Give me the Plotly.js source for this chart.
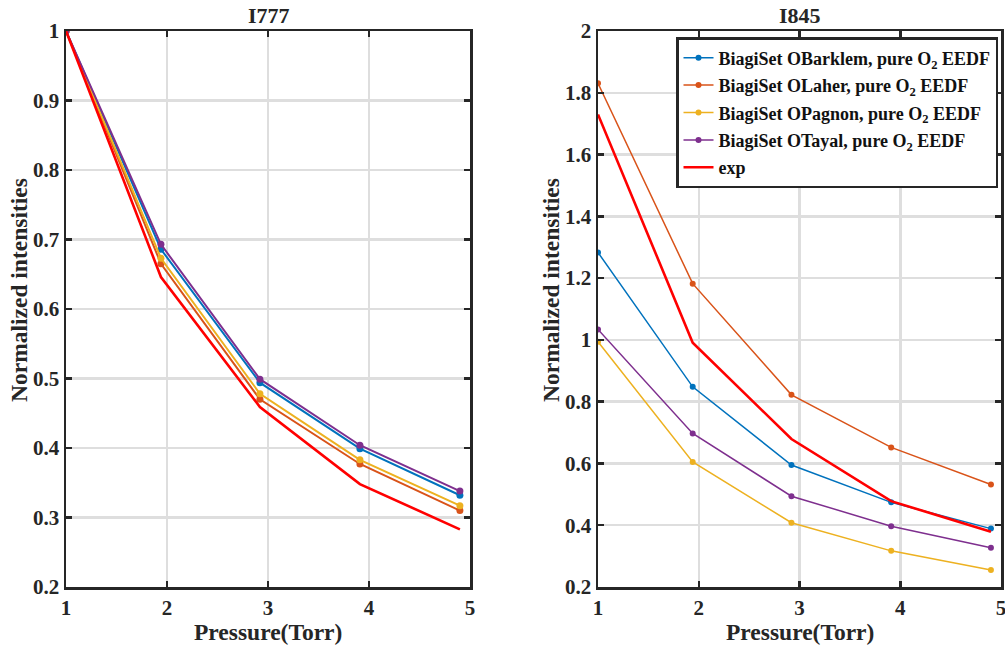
<!DOCTYPE html>
<html>
<head>
<meta charset="utf-8">
<script src="https://cdn.plot.ly/plotly-3.0.1.min.js"></script>
<style>html,body{margin:0;padding:0;background:#fff;}#chart{width:1005px;height:646px;}</style>
</head>
<body>
<div id="chart"></div>
<script>
const pressure = [1, 1.94, 2.92, 3.91, 4.9];

const seriesNames = [
  'BiagiSet OBarklem, pure O<sub>2</sub> EEDF',
  'BiagiSet OLaher, pure O<sub>2</sub> EEDF',
  'BiagiSet OPagnon, pure O<sub>2</sub> EEDF',
  'BiagiSet OTayal, pure O<sub>2</sub> EEDF',
  'exp'
];
const seriesColors = ['#0072BD', '#D95319', '#EDB120', '#7E2F8E', '#FF0000'];

// I777 panel
const barklem777 = [1, 0.686, 0.494, 0.399, 0.332];
const laher777   = [1, 0.665, 0.470, 0.377, 0.310];
const pagnon777  = [1, 0.673, 0.478, 0.383, 0.317];
const tayal777   = [1, 0.693, 0.499, 0.404, 0.338];
const exp777     = [1, 0.646, 0.459, 0.348, 0.283];

// I845 panel
const barklem845 = [1.283, 0.848, 0.595, 0.474, 0.389];
const laher845   = [1.831, 1.182, 0.822, 0.652, 0.532];
const pagnon845  = [0.994, 0.605, 0.408, 0.317, 0.255];
const tayal845   = [1.034, 0.697, 0.494, 0.397, 0.327];
const exp845     = [1.730, 0.991, 0.679, 0.478, 0.379];

const panel777 = [barklem777, laher777, pagnon777, tayal777, exp777];
const panel845 = [barklem845, laher845, pagnon845, tayal845, exp845];

const traces = [];
panel777.forEach((ys, i) => {
  const isExp = i === 4;
  traces.push({
    x: pressure, y: ys, xaxis: 'x', yaxis: 'y', showlegend: false,
    name: seriesNames[i], type: 'scatter',
    mode: isExp ? 'lines' : 'lines+markers',
    line: {color: seriesColors[i], width: isExp ? 2.6 : 2},
    marker: {color: seriesColors[i], size: 7}
  });
});
panel845.forEach((ys, i) => {
  const isExp = i === 4;
  traces.push({
    x: pressure, y: ys, xaxis: 'x2', yaxis: 'y2', showlegend: true,
    legendgroup: 'g' + i,
    name: seriesNames[i], type: 'scatter',
    mode: isExp ? 'lines' : 'lines+markers',
    line: {color: seriesColors[i], width: isExp ? 2.6 : 1.5},
    marker: {color: seriesColors[i], size: 6}
  });
});

const FAM = 'Liberation Serif, Times New Roman, serif';
const tickFont = {family: FAM, size: 21, color: '#262626', weight: 'bold'};

function xAx(domain, anchor) {
  return {
    domain: domain, anchor: anchor, range: [1, 5], tickvals: [1, 2, 3, 4, 5],
    showgrid: true, gridcolor: '#dedede', gridwidth: 2.5,
    showline: true, linecolor: '#262626', linewidth: 2.5, mirror: 'ticks',
    ticks: 'inside', ticklen: 6, tickwidth: 2.5, tickcolor: '#262626',
    tickfont: tickFont, zeroline: false, ticklabeloverflow: 'allow'
  };
}
function yAx(domain, anchor, range, dtick) {
  return {
    domain: domain, anchor: anchor, range: range, dtick: dtick, tick0: 0.2,
    showgrid: true, gridcolor: '#dedede', gridwidth: 2.5,
    showline: true, linecolor: '#262626', linewidth: 2.5, mirror: 'ticks',
    ticks: 'inside', ticklen: 6, tickwidth: 2.5, tickcolor: '#262626',
    tickfont: tickFont, zeroline: false, ticklabeloverflow: 'allow'
  };
}

const yDom = [1 - 587/646, 1 - 31/646];
const annFont = (s) => ({family: FAM, size: s, color: '#262626', weight: 'bold'});
const layout = {
  width: 1005, height: 646,
  margin: {l: 0, r: 0, t: 0, b: 0},
  paper_bgcolor: '#fff', plot_bgcolor: '#fff',
  font: {family: FAM, color: '#262626'},
  xaxis: xAx([66/1005, 470/1005], 'y'),
  yaxis: yAx(yDom, 'x', [0.2, 1], 0.1),
  xaxis2: xAx([598/1005, 1001/1005], 'y2'),
  yaxis2: yAx(yDom, 'x2', [0.2, 2], 0.2),
  legend: {
    x: 676/1005, y: 1 - 37/646, xanchor: 'left', yanchor: 'top',
    bgcolor: '#fff', bordercolor: '#262626', borderwidth: 2.5,
    font: {family: FAM, size: 18, color: '#111', weight: 'bold'},
    tracegroupgap: 1, itemwidth: 30
  },
  annotations: [
    {text: 'I777', x: 269/1005, y: 1 - 15/646, xref: 'paper', yref: 'paper', showarrow: false,
     xanchor: 'center', yanchor: 'middle', font: annFont(22)},
    {text: 'I845', x: 800/1005, y: 1 - 15/646, xref: 'paper', yref: 'paper', showarrow: false,
     xanchor: 'center', yanchor: 'middle', font: annFont(22)},
    {text: 'Pressure(Torr)', x: 268/1005, y: 1 - 632/646, xref: 'paper', yref: 'paper', showarrow: false,
     xanchor: 'center', yanchor: 'middle', font: annFont(23.5)},
    {text: 'Pressure(Torr)', x: 800/1005, y: 1 - 632/646, xref: 'paper', yref: 'paper', showarrow: false,
     xanchor: 'center', yanchor: 'middle', font: annFont(23.5)},
    {text: 'Normalized intensities', x: 19/1005, y: 1 - 290/646, xref: 'paper', yref: 'paper', showarrow: false,
     xanchor: 'center', yanchor: 'middle', textangle: -90, font: annFont(23.5)},
    {text: 'Normalized intensities', x: 551/1005, y: 1 - 290/646, xref: 'paper', yref: 'paper', showarrow: false,
     xanchor: 'center', yanchor: 'middle', textangle: -90, font: annFont(23.5)}
  ]
};

Plotly.newPlot('chart', traces, layout, {displayModeBar: false, staticPlot: true});
</script>
</body>
</html>
